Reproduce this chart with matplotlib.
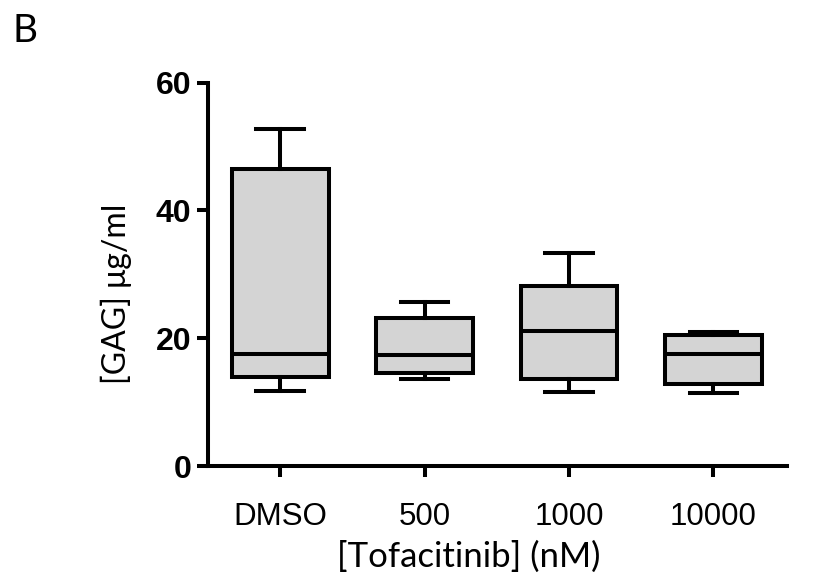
import matplotlib
matplotlib.use("Agg")
import matplotlib.pyplot as plt

categories = ["DMSO", "500", "1000", "10000"]
whislo = [11.8, 13.6, 11.6, 11.5]
q1 = [13.9, 14.5, 13.6, 12.8]
med = [17.6, 17.4, 21.2, 17.6]
q3 = [46.5, 23.2, 28.1, 20.5]
whishi = [52.7, 25.7, 33.3, 20.9]
yticks = [0, 20, 40, 60]

W, H = 821, 578
fig = plt.figure(figsize=(W/100, H/100), dpi=100)
ax = fig.add_axes([208/W, 1-466/H, (787-208)/W, (466-82.7)/H])

stats = []
for i, c in enumerate(categories):
    stats.append(dict(label=c, whislo=whislo[i], q1=q1[i], med=med[i],
                      q3=q3[i], whishi=whishi[i], fliers=[]))

lw = 2.9
ax.bxp(stats, positions=range(len(categories)), widths=0.67,
       patch_artist=True, showfliers=False, capwidths=0.33,
       boxprops=dict(facecolor="#d4d4d4", edgecolor="black", linewidth=lw),
       medianprops=dict(color="black", linewidth=lw),
       whiskerprops=dict(color="black", linewidth=lw),
       capprops=dict(color="black", linewidth=lw))

ax.set_xlim(-0.5, 3.51)
ax.set_ylim(0, 60)
ax.set_yticks(yticks)
ax.set_xticks(range(len(categories)))
ax.set_xticklabels(categories, fontsize=22.5, family="Liberation Sans")
ax.set_yticklabels([str(t) for t in yticks], fontsize=23,
                   family="Liberation Sans", fontweight="bold")
for s in ["top", "right"]:
    ax.spines[s].set_visible(False)
for s in ["left", "bottom"]:
    ax.spines[s].set_linewidth(lw)
ax.tick_params(axis="x", length=8, width=lw, pad=18)
ax.tick_params(axis="y", length=8, width=lw, pad=4)

fig.text(469/W, 1-557/H, "[Tofacitinib] (nM)", fontsize=25, family="Lato",
         ha="center", va="center")
fig.text(116/W, 1-294/H, "[GAG] μg/ml", fontsize=23, family="Lato",
         ha="center", va="center", rotation=90)

fig.text(12/W, 1-42/H, "B", fontsize=28, family="Lato", ha="left", va="baseline")

fig.savefig("out.png", dpi=100)
